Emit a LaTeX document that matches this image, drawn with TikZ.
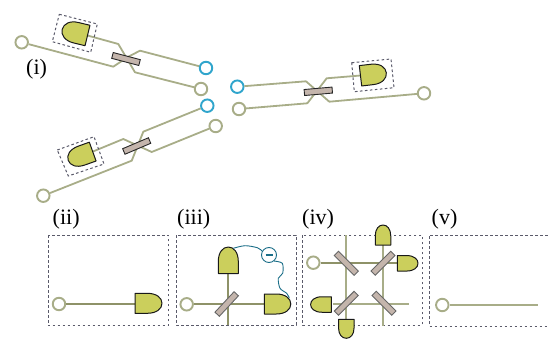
\documentclass[tikz,border=0pt]{standalone}
\usepackage{fontspec}
\setmainfont{Liberation Serif}
\definecolor{olive}{HTML}{A8AD88}
\definecolor{darkolive}{HTML}{8E9268}
\definecolor{detfill}{HTML}{CBCF5C}
\definecolor{portblue}{HTML}{30A5CC}
\definecolor{bsfill}{HTML}{C4B5AC}
\definecolor{wirecol}{HTML}{1B6E88}
\definecolor{boxdash}{HTML}{5A5A6A}
\tikzset{
  guide/.style={draw=olive,line width=1.8pt,line join=round},
  guidedark/.style={draw=darkolive,line width=1.8pt},
  portnode/.style={circle,draw=olive,fill=white,line width=1.9pt,minimum size=12.5pt,inner sep=0pt},
  blueport/.style={portnode,draw=portblue},
  bsnode/.style={rectangle,draw=black!85,fill=bsfill,line width=.9pt,minimum width=28pt,minimum height=6pt,inner sep=0pt},
  dashbox/.style={draw=boxdash,line width=1pt,dash pattern=on 2.6pt off 2.4pt},
  detshape/.style={draw=black!90,fill=detfill,line width=1pt,line join=round},
  lab/.style={anchor=base west,inner sep=0pt,font=\fontsize{22}{24}\selectfont},
  wirepath/.style={draw=wirecol,line width=.9pt}
}
\newcommand{\detector}[6]{%
  \coordinate (#1) at (#2,#3);
  \draw[detshape,shift={(#2,#3)},rotate=#4,xscale=#5,yscale=#6/2]
    (0,-1) -- (.45,-1) .. controls (.8,-1) and (1,-.55) .. (1,0)
    .. controls (1,.55) and (.8,1) .. (.45,1) -- (0,1) -- cycle;}
\begin{document}
\begin{tikzpicture}[x=1pt,y=-1pt]
\useasboundingbox (0,0) rectangle (548,339);
% labels
\node[lab] (li) at (26,74.5) {(i)};
\node[lab] (lii) at (52.5,224.5) {(ii)};
\node[lab] (liii) at (177,224.5) {(iii)};
\node[lab] (liv) at (302,224.5) {(iv)};
\node[lab] (lv) at (431.5,224.5) {(v)};
% (i) upper arm
\node[portnode] (a1) at (21.7,42.3) {};
\node[blueport] (a2) at (206,68) {};
\node[portnode] (a3) at (201,89) {};
\coordinate (ad) at (87.5,35.5);
\draw[guide] (a1) -- (113.3,66.7) -- (128.3,56.7) -- (140,50.7) -- (a2);
\draw[guide] (ad) -- (118.3,44) -- (135,72.3) -- (a3);
\node[bsnode,rotate=-14.7] (abs) at (126,59) {};
\draw[dashbox] (59.3,14.3) -- (97.3,24) -- (90.7,52.3) -- (52.3,41.7) -- cycle;
\detector{adet}{87.5}{35.5}{166.4}{26}{21}
% (i) lower arm
\node[portnode] (b1) at (43.3,195.7) {};
\node[blueport] (b2) at (207.3,105.7) {};
\node[portnode] (b3) at (215.7,126) {};
\coordinate (bd) at (93,151.5);
\draw[guide] (b1) -- (131.7,160.7) -- (143.3,131.7) -- (b2);
\draw[guide] (bd) -- (123.3,139) -- (151.7,152) -- (b3);
\node[bsnode,rotate=23] (bbs) at (136.7,146) {};
\draw[dashbox] (57.3,150) -- (94,136.7) -- (104,164) -- (68.3,176) -- cycle;
\detector{bdet}{92.7}{151.6}{199.7}{26}{20}
% (i) right arm
\node[blueport] (c1) at (237.3,86.7) {};
\node[portnode] (c2) at (239,109) {};
\node[portnode] (c3) at (424,93.3) {};
\coordinate (cd) at (360.5,75.5);
\draw[guide] (c1) -- (306,81.3) -- (329.3,101.7) -- (c3);
\draw[guide] (c2) -- (307.3,103.3) -- (326.7,78.3) -- (cd);
\node[bsnode,rotate=5] (cbs) at (318.3,91.3) {};
\draw[dashbox] (351.7,62.7) -- (391,59) -- (394,87.7) -- (354.3,91.7) -- cycle;
\detector{cdet}{360.5}{75.8}{6.7}{26}{20.5}
% (ii)
\draw[dashbox] (48.3,235) rectangle (168.3,325.7);
\node[portnode] (d1) at (59,304) {};
\coordinate (dd) at (135,303.3);
\draw[guidedark] (d1) -- (135,304);
\detector{ddet}{135}{303.3}{0}{27}{20}
% (iii)
\draw[dashbox] (176,235) rectangle (296,325);
\node[portnode] (e1) at (186.7,304.3) {};
\draw[guidedark] (e1) -- (265,304.3);
\draw[guidedark] (227.7,273.3) -- (227.7,325);
\node[bsnode,rotate=47,draw=black!60] (ebs) at (226.7,304) {};
\detector{edet}{228.3}{273.5}{90}{26.5}{20}
\detector{fdet}{264.3}{304}{0}{26.5}{20}
\node[circle,draw=wirecol,fill=white,line width=.9pt,minimum size=15pt,inner sep=0pt] (meter) at (269,255) {};
\draw[wirecol,line width=1.8pt] (265.5,254.7) -- (272.5,254.7);
\draw[wirepath] plot[smooth] coordinates {(233.3,248.3) (245,245.7) (257.3,247.7) (meter.150)};
\draw[wirepath] plot[smooth] coordinates {(meter.-50) (282.3,263.3) (282.7,273.3) (278.3,278.3) (280,288.3) (286.7,293.3) (289.3,298)};
% (iv)
\draw[dashbox] (302.7,235) rectangle (422,325);
\node[portnode] (g1) at (313.3,262.7) {};
\draw[guidedark] (g1) -- (398,262.7);
\draw[guide] (333,303.7) -- (408.7,303.7);
\draw[guide] (346.3,235) -- (346.3,320);
\draw[guide] (383,245) -- (383,325.7);
\node[bsnode,rotate=-45,draw=black!60] (g2) at (346.3,263.3) {};
\node[bsnode,rotate=45,draw=black!60] (g3) at (383,263.3) {};
\node[bsnode,rotate=45,draw=black!60] (g4) at (346.3,303.3) {};
\node[bsnode,rotate=-45,draw=black!60] (g5) at (384,303.3) {};
\detector{gdeta}{383}{245}{90}{20}{15.5}
\detector{gdetb}{397.3}{263.3}{0}{20.7}{15.5}
\detector{gdetc}{331.3}{304.5}{180}{20.7}{15.5}
\detector{gdetd}{346.3}{319.3}{270}{19}{15.5}
% (v)
\draw[dashbox] (548,235) -- (429.3,235) -- (429.3,326) -- (548,326);
\node[portnode] (h1) at (442.3,305) {};
\draw[guide] (h1) -- (538.3,305);
\end{tikzpicture}
\end{document}
